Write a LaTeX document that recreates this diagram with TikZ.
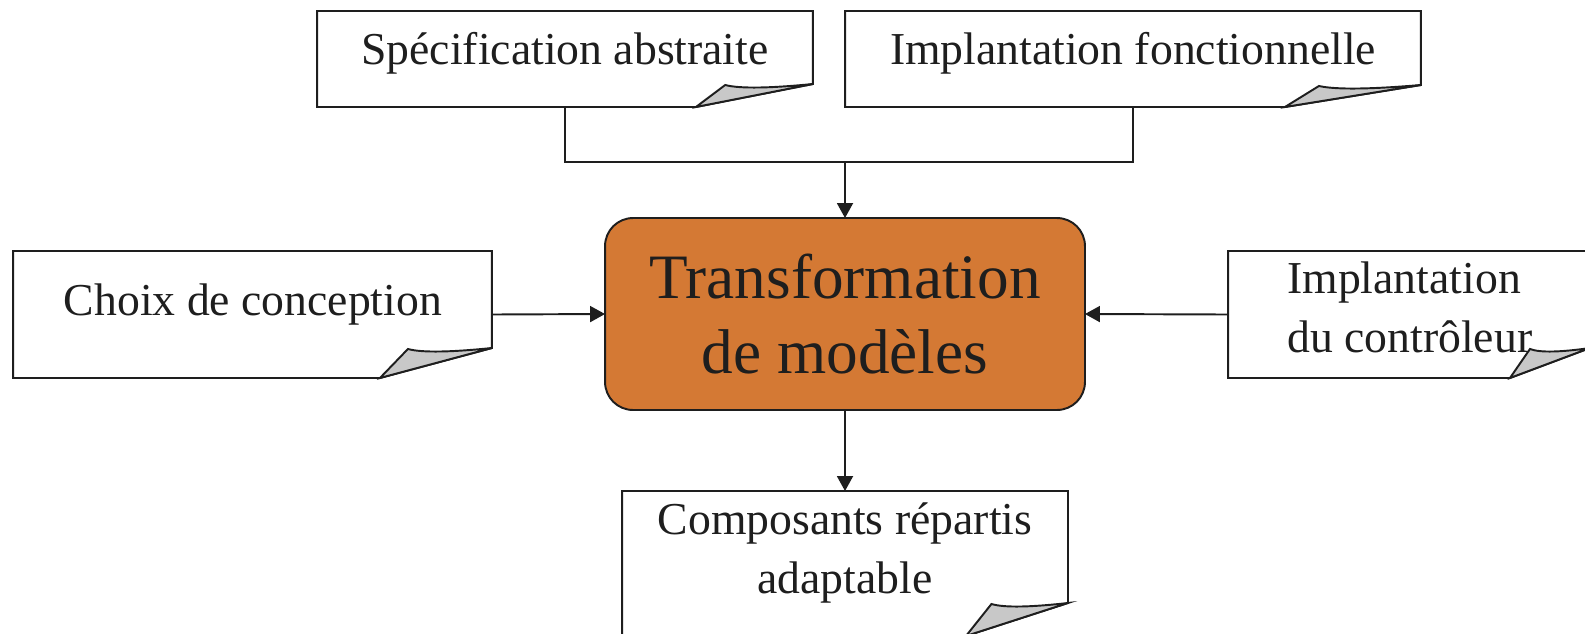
\documentclass[tikz,border=0pt]{standalone}
\usepackage{fontspec}
\setmainfont{Liberation Serif}
\usetikzlibrary{arrows.meta,calc}

\definecolor{modelorange}{RGB}{212,121,52}
\definecolor{flapgray}{RGB}{200,200,200}
\definecolor{inkblack}{RGB}{30,30,30}

% outline of a document box with its turned-up corner
% #1 = node, #2 = fold width, #3 = fold height
\newcommand{\foldbox}[3]{%
  \draw[boxline] (#1.north west) -- (#1.north east) -- ($(#1.south east)+(0,-#3)$)
    -- ($(#1.south east)+(-#2,0)$) -- (#1.south west) -- cycle;
  \draw[boxline,fill=flapgray] ($(#1.south east)+(0,-#3)$)
    .. controls ($(#1.south east)+(-0.35*#2,-#3+4)$) and ($(#1.south east)+(-0.62*#2,-#3+5)$)
    .. ($(#1.south east)+(-0.75*#2,-#3+1)$) -- ($(#1.south east)+(-#2,0)$) -- cycle;
}

\begin{document}
\begin{tikzpicture}[x=0.02cm,y=-0.02cm,
    boxline/.style={draw=inkblack,line width=1.1pt},
    docbox/.style={inner sep=0pt,outer sep=0pt},
    doctext/.style={inner sep=0pt,text=inkblack,font=\fontsize{26}{33.6}\selectfont,align=center},
    transbox/.style={boxline,fill=modelorange,rounded corners=0.56cm,inner sep=0pt,outer sep=0pt,
      text=inkblack,font=\fontsize{36}{43}\selectfont,align=center},
    link/.style={draw=inkblack,line width=1.1pt},
    arrow/.style={link,-{Triangle[length=0.3cm,width=0.32cm]}}]
  \useasboundingbox (0,0) rectangle (1585,633);

  % input documents
  \node[docbox,minimum width=9.92cm,minimum height=1.92cm] (spec) at (565,59) {};
  \node[doctext] (spec text) at (565,53) {Spécification abstraite};
  \foldbox{spec}{117}{23}

  \node[docbox,minimum width=11.52cm,minimum height=1.92cm] (impl) at (1133,59) {};
  \node[doctext] (impl text) at (1133,53) {Implantation fonctionnelle};
  \foldbox{impl}{136}{22}

  \node[docbox,minimum width=9.58cm,minimum height=2.54cm] (choix) at (252.5,314.5) {};
  \node[doctext] (choix text) at (253,305) {Choix de conception};
  \foldbox{choix}{112}{30}

  \node[docbox,minimum width=7.24cm,minimum height=2.54cm] (ctrl) at (1409,314.5) {};
  \node[doctext,align=left,anchor=west] (ctrl text) at (1287,307) {Implantation\\du contrôleur};
  \foldbox{ctrl}{80}{30}

  % central transformation
  \node[transbox,minimum width=9.6cm,minimum height=3.84cm] (transf) at (845,314) {Transformation\\de modèles};

  % output document
  \node[docbox,minimum width=8.92cm,minimum height=2.9cm] (compo) at (845,563.5) {};
  \node[doctext] (compo text) at (845,553) {Composants répartis\\adaptable};
  \foldbox{compo}{102}{33}

  % connectors
  \coordinate (join) at (845,162);
  \draw[link] (spec.south) |- (join) -| (impl.south);
  \draw[arrow] (join) -- (transf.north);
  \draw[arrow] (choix.east) -- (transf.west);
  \draw[arrow] (ctrl.west) -- (transf.east);
  \draw[arrow] (transf.south) -- (compo.north);
\end{tikzpicture}
\end{document}
